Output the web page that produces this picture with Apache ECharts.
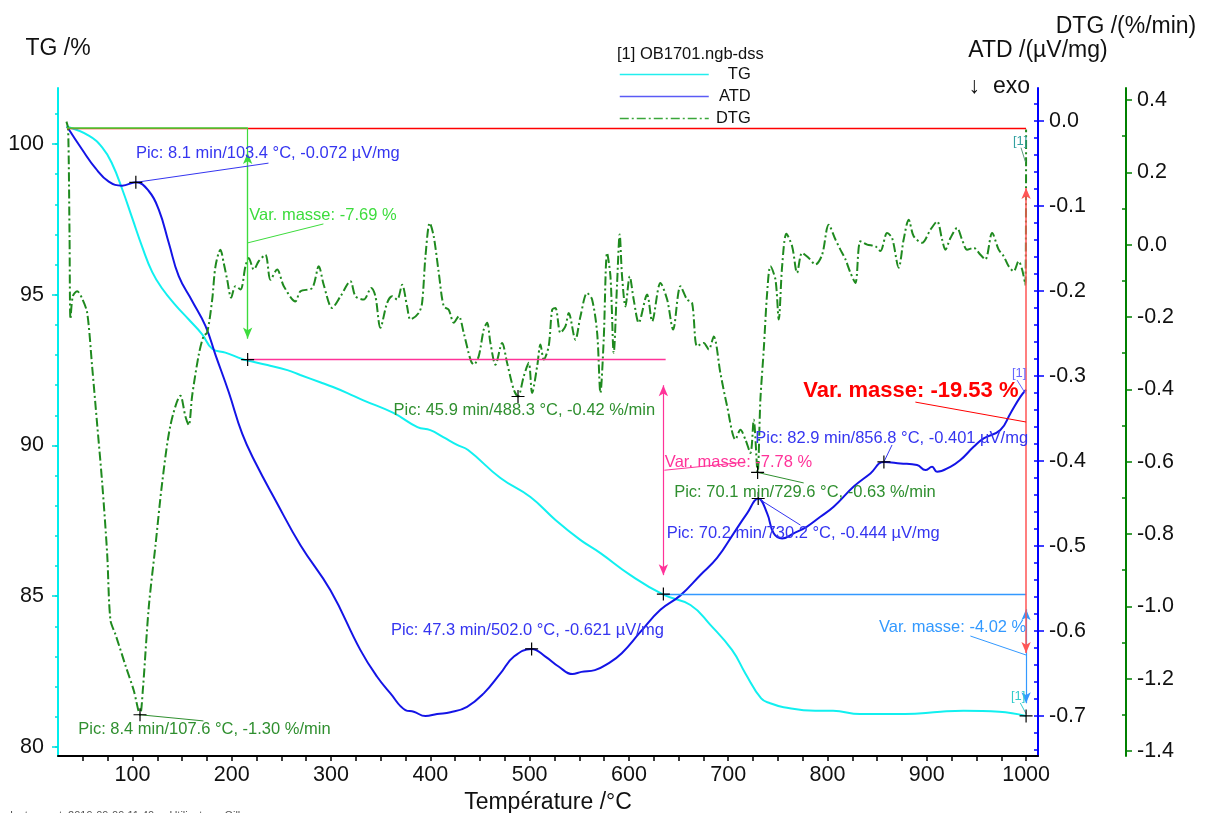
<!DOCTYPE html>
<html><head><meta charset="utf-8">
<script src="https://cdn.jsdelivr.net/npm/echarts@6/dist/echarts.min.js"></script>
<style>html,body{margin:0;padding:0;background:#fff}#c{width:1205px;height:813px}</style>
</head><body><div id="c"></div>
<script>
// ---------- DATA ----------
const tgT = [33.5,56,69.5,79.6,89.6,99.7,109.8,119.8,129.9,143.3,156.7,170.2,180.3,193.6,210.5,216,236,256,269,289,302,316.5,332.6,362.8,387,400,413,427,438,470.6,500.8,526,551,571.3,601.5,634.7,662,682,703.8,717.3,733.2,742.3,755.8,787.5,805.6,832.8,878,914,937,973,1000];
const tgV = [100.58,100.28,99.89,99.34,98.51,97.55,96.59,95.76,95.21,94.66,94.18,93.69,93.21,93.08,92.87,92.82,92.67,92.5,92.34,92.1,91.94,91.74,91.5,91.08,90.61,90.51,90.28,90.02,89.85,88.92,88.29,87.53,86.87,86.43,85.7,85.05,84.71,84.05,83.22,82.44,81.61,81.45,81.32,81.2,81.2,81.09,81.09,81.17,81.2,81.17,81.03];

const atdT = [34.2,49.3,62.7,76.1,89.6,103.4,116.4,126.5,136.6,146.6,160.1,173.5,183.6,197,210.5,223.9,244,269.2,299.4,329.6,346.4,359.8,374.9,383.3,395.1,406.8,420.2,437,453.8,470.6,484.2,502,515.9,529.5,543.1,552.2,565.7,579.4,592.8,611.6,631.7,651.9,672,688.8,705.5,719,730.2,739.2,745.8,754.3,766,779.4,792.8,806.2,826.4,843.2,856.8,873.4,890.2,898.6,905.3,910.3,923.7,933.8,947.2,957.3,974.1,984.2,994.2,1000];
const atdV = [-0.0066,-0.0334,-0.0553,-0.0711,-0.0759,-0.072,-0.0822,-0.1042,-0.1433,-0.1824,-0.2116,-0.2409,-0.275,-0.319,-0.3678,-0.402,-0.446,-0.499,-0.552,-0.6224,-0.6538,-0.6733,-0.6929,-0.6949,-0.7,-0.6976,-0.6956,-0.6891,-0.6733,-0.6498,-0.630,-0.621,-0.630,-0.642,-0.6506,-0.648,-0.646,-0.638,-0.626,-0.601,-0.575,-0.558,-0.534,-0.514,-0.485,-0.4615,-0.444,-0.4615,-0.485,-0.491,-0.485,-0.477,-0.4655,-0.4538,-0.430,-0.4145,-0.401,-0.4027,-0.4047,-0.4106,-0.4067,-0.4126,-0.4067,-0.3988,-0.3832,-0.3733,-0.3635,-0.3439,-0.3244,-0.316];

const dtgT = [33.5,35.2,36.6,37.6,39.9,44.3,49.3,54.4,59.4,64.5,69.5,74.5,77.8,82.9,93,101.3,107.6,110.4,116.4,123.2,129.9,138.3,148.3,153.4,156.7,160.1,166.8,171.8,175.2,180.3,183.6,188.6,191.9,195.4,199.4,203.7,208.8,213.8,217.1,222.2,227.2,233.9,239,245.7,252.4,264.1,269.2,281,287.6,292.6,301.1,309.5,319.5,324.6,332.9,340.4,344.7,349.7,356.5,361.5,366.6,371.6,376.6,380,388.3,391.7,395.1,399.4,403.4,408.5,413.5,418.5,423.6,428.6,433.6,440.4,443.7,448.7,453.8,457.2,460.5,465.6,472.3,477.3,484,488.3,494.1,499.1,502.5,507.6,510.9,514.2,519.2,522.7,526,531,536,539.4,546.1,551.2,557.9,562.9,568,571.3,574.6,578,581.4,584.7,588.1,590.7,593.1,596.5,600.8,604.8,609.9,618.3,623.4,631.7,638.5,644.5,651.9,658.6,663.6,668.7,675.3,680.4,685.4,692.1,698.9,707.3,712.3,717.3,722.4,725.7,729.6,732.4,735.8,739.2,742.5,747.6,750.9,754.3,758.6,764.4,769.4,774.4,781.1,787.8,794.6,801.2,808,813,818.1,823.1,828.1,833.1,839.9,848.3,853.3,860,865.1,871.7,876.7,881.8,886.8,895.3,903.6,910.4,915.4,918.7,923.8,930.5,935.5,940.6,947.2,954,959,965.8,972.4,977.4,982.5,987.5,992.5,996,999.3,1000];
const dtgV = [0.34,0.32,0.03,-0.206,-0.143,-0.129,-0.149,-0.189,-0.338,-0.499,-0.659,-0.854,-1.038,-1.078,-1.164,-1.233,-1.30,-1.233,-1.003,-0.831,-0.659,-0.499,-0.418,-0.476,-0.499,-0.418,-0.304,-0.252,-0.244,-0.152,-0.06,-0.014,-0.051,-0.097,-0.147,-0.115,-0.124,-0.06,-0.037,-0.069,-0.046,-0.028,-0.097,-0.069,-0.115,-0.157,-0.129,-0.120,-0.06,-0.111,-0.175,-0.143,-0.101,-0.143,-0.152,-0.12,-0.143,-0.23,-0.161,-0.143,-0.152,-0.111,-0.171,-0.207,-0.189,-0.161,-0.032,0.06,0.023,-0.078,-0.171,-0.18,-0.216,-0.198,-0.244,-0.318,-0.332,-0.309,-0.235,-0.216,-0.272,-0.332,-0.272,-0.327,-0.401,-0.42,-0.364,-0.327,-0.41,-0.336,-0.276,-0.318,-0.281,-0.18,-0.175,-0.244,-0.226,-0.189,-0.263,-0.198,-0.134,-0.152,-0.244,-0.41,-0.263,-0.023,-0.088,-0.299,-0.106,0.028,-0.088,-0.171,-0.088,-0.152,-0.216,-0.138,-0.212,-0.106,-0.152,-0.235,-0.115,-0.152,-0.161,-0.281,-0.272,-0.29,-0.254,-0.355,-0.447,-0.539,-0.512,-0.539,-0.576,-0.484,-0.63,-0.429,-0.29,-0.134,-0.06,-0.097,-0.207,-0.06,0.03,-0.005,-0.078,-0.023,-0.037,-0.055,-0.028,0.055,0.014,-0.014,-0.041,-0.078,-0.106,0.009,0.0,-0.005,-0.018,0.032,0.018,-0.064,0.014,0.069,0.023,0.005,0.041,0.064,0.014,-0.014,0.018,0.046,0.014,-0.014,-0.009,-0.028,-0.041,0.032,-0.014,-0.032,-0.06,-0.074,-0.046,-0.069,-0.111,0.318];

const xLabels = [100,200,300,400,500,600,700,800,900,1000];
const tgLabels = [80,85,90,95,100];
const atdLabels = [0,-0.1,-0.2,-0.3,-0.4,-0.5,-0.6,-0.7];
const dtgLabels = [0.4,0.2,0,-0.2,-0.4,-0.6,-0.8,-1.0,-1.2,-1.4];

// mass-change steps (TG levels, %) and peak annotations
const tgStart = 100.54, tgStep1 = 92.85, tgStep2 = 85.07, tgEnd = 81.03;
const tStart = 34, tStep1 = 216, tStep2 = 634.7, tEnd = 1000;
const atdPeaks = [[103.4,-0.072],[502.0,-0.621],[730.2,-0.444],[856.8,-0.401]];
const dtgPeaks = [[107.6,-1.30],[488.3,-0.42],[729.6,-0.63]];

// ---------- BUILD ----------
const zip = (a,b) => a.map((v,i)=>[v,b[i]]);
const FONT = '"Liberation Sans", Arial, sans-serif';
function range(a,b,s){const r=[];for(let v=a;v<=b+1e-9;v+=s)r.push(Math.round(v*1000)/1000);return r;}

function txt(coord, text, color, size, bold){
  return {coord, symbol:'circle', symbolSize:1, itemStyle:{color:'rgba(0,0,0,0)'},
    label:{show:true, position:'right', distance:0, formatter:text, color, fontSize:size||16.5,
      fontWeight:bold?'bold':'normal', fontFamily:FONT}};
}
function cross(coord){
  return {coord, symbol:'path://M0,6L12,6M6,0L6,12', symbolSize:13,
    itemStyle:{color:'none', borderColor:'#000', borderWidth:1.2}, label:{show:false}};
}
function seg(a,b,color,w,arrows){
  return [{coord:a, symbol:arrows?'arrow':'none', lineStyle:{color, width:w||1, type:'solid', opacity:1}},
          {coord:b, symbol:arrows?'arrow':'none', lineStyle:{color, width:w||1, type:'solid', opacity:1}}];
}
const mlBase = {silent:true, animation:false, symbolSize:[7,11], label:{show:false}, emphasis:{disabled:true}};
const mpBase = {silent:true, animation:false, emphasis:{disabled:true}};

const cGreen='#3ddc3d', cPink='#ff3399', cLBlue='#3399ff', cRed='#ff0000', cBlueT='#3535f0', cGreenT='#2f8f2f';

const tgLines = [
  seg([tStart,tgStart],[tEnd,tgStart],cRed,1.3),
  seg([tStart,tgStart],[tStep1,tgStart],cGreen,1.6),
  seg([tStep1,tgStart],[tStep1,93.55],cGreen,1.2),
  seg([tStep1,99.7],[tStep1,93.55],cGreen,1.2,true),
  seg([215.8,96.72],[292.3,97.35],cGreen,1),
  seg([tStep1,tgStep1],[637,tgStep1],cPink,1.4),
  seg([tStep2,92.0],[tStep2,85.7],cPink,1.2,true),
  seg([635.7,89.18],[717,89.45],cPink,1),
  seg([tStep2,tgStep2],[tEnd,tgStep2],cLBlue,1.4),
  seg([tEnd,84.57],[tEnd,81.45],cLBlue,1.2,true),
  seg([943.9,83.68],[1000,83.05],cLBlue,1),
  seg([tEnd,98.54],[tEnd,83.12],'#ff5555',1.5,true),
  seg([888.5,91.44],[1000,90.78],cRed,1),
  seg([994.2,81.46],[1000,81.10],'#33cccc',1)
];
const tgPts = [
  cross([tStep1,tgStep1]), cross([tStep2,tgStep2]), cross([tEnd,tgEnd]),
  txt([217.1,97.645],'Var. masse: -7.69 %',cGreen),
  txt([635.7,89.45],'Var. masse: -7.78 %',cPink),
  txt([851.3,83.98],'Var. masse: -4.02 %',cLBlue),
  txt([775,91.8],'Var. masse: -19.53 %',cRed,22,true),
  txt([984.2,81.67],'[1]','#33cccc',13)
];
const atdLines = [
  seg(atdPeaks[0],[237,-0.0494],cBlueT,1),
  seg(atdPeaks[2],[772.7,-0.4753],cBlueT,1),
  seg(atdPeaks[3],[865,-0.381],cBlueT,1),
  seg([990.9,-0.3047],[999.3,-0.3204],'#6666ff',1)
];
const atdPts = atdPeaks.map(cross).concat([
  txt([103.0,-0.0376],'Pic: 8.1 min/103.4 °C, -0.072 µV/mg',cBlueT),
  txt([359.8,-0.5988],'Pic: 47.3 min/502.0 °C, -0.621 µV/mg',cBlueT),
  txt([637.5,-0.4851],'Pic: 70.2 min/730.2 °C, -0.444 µV/mg',cBlueT),
  txt([726.7,-0.3733],'Pic: 82.9 min/856.8 °C, -0.401 µV/mg',cBlueT),
  txt([985.2,-0.2965],'[1]','#6666ff',13)
]);
const dtgLines = [
  seg(dtgPeaks[0],[171.5,-1.317],cGreenT,1),
  seg(dtgPeaks[2],[776,-0.659],cGreenT,1),
  seg([994.9,0.268],[999.3,0.229],'#5a9a7a',1)
];
const dtgPts = dtgPeaks.map(cross).concat([
  txt([44.9,-1.341],'Pic: 8.4 min/107.6 °C, -1.30 %/min',cGreenT),
  txt([362.5,-0.459],'Pic: 45.9 min/488.3 °C, -0.42 %/min',cGreenT),
  txt([645.1,-0.685],'Pic: 70.1 min/729.6 °C, -0.63 %/min',cGreenT),
  txt([986.2,0.285],'[1]','#33a0a0',13)
]);

const lblStyle = {color:'#111', fontSize:21.5, fontFamily:FONT};
const nameStyle = {color:'#111', fontSize:23, fontFamily:FONT};
const fmt1 = v => (Math.abs(v)<1e-9?0:v).toFixed(1);

function yAx(o){
  return Object.assign({type:'value', splitLine:{show:false}, axisPointer:{show:false}}, o);
}

const option = {
  animation:false,
  backgroundColor:'#fff',
  grid:{left:58, right:167, top:88, bottom:57, containLabel:false, outerBoundsMode:'none'},
  legend:{
    data:[{name:'TG', lineStyle:{color:'#22eeee', width:1.5}},
          {name:'ATD', lineStyle:{color:'#5b5bf5', width:1.5}},
          {name:'DTG', lineStyle:{color:'#3aa63a', width:1.5}}],
    orient:'vertical', left:619, top:66, itemWidth:89, itemHeight:14, itemGap:5,
    padding:0, selectedMode:false,
    itemStyle:{opacity:0, color:'rgba(0,0,0,0)', borderWidth:0},
    formatter: n => '{r|' + n + '}',
    textStyle:{fontSize:16.5, color:'#111', fontFamily:FONT, rich:{r:{width:37, align:'right', fontSize:16.5, fontFamily:FONT, color:'#111'}}}
  },
  graphic:[
    {type:'text', left:617, top:46, style:{text:'[1] OB1701.ngb-dss', font:'16.5px '+FONT, fill:'#111'}},
    {type:'text', right:175, top:75, style:{text:'↓  exo', font:'23px '+FONT, fill:'#111'}},
    {type:'text', left:10, top:810, style:{text:'Instrument: 2019-09-09 11:40     Utilisateur: Gilles', font:'11px '+FONT, fill:'#555'}}
  ],
  xAxis:{
    type:'value', min:25, max:1012, position:'bottom',
    axisLine:{show:true, onZero:false, lineStyle:{color:'#000', width:2}},
    axisTick:{show:true, length:5, customValues:range(50,1000,25), lineStyle:{color:'#000', width:1.5}},
    axisLabel:{customValues:xLabels, margin:8, formatter:v => String(v), ...lblStyle},
    splitLine:{show:false},
    name:'Température /°C', nameLocation:'middle', nameGap:33, nameTextStyle:nameStyle
  },
  yAxis:[
    yAx({position:'left', min:79.7, max:101.86,
      axisLine:{show:true, onZero:false, lineStyle:{color:'#00eeee', width:2}},
      axisTick:{show:true, length:6, customValues:tgLabels, lineStyle:{color:'#00dddd', width:1.5}},
      axisLabel:{customValues:tgLabels, margin:14, formatter:v => String(v), ...lblStyle},
      name:'TG /%', nameLocation:'end', nameGap:28, nameTextStyle:nameStyle}),
    yAx({position:'right', offset:0, min:-0.747, max:0.039,
      axisLine:{show:true, onZero:false, lineStyle:{color:'#0000ff', width:2}},
      axisTick:{show:true, length:6, customValues:atdLabels, lineStyle:{color:'#0000ff', width:1.5}},
      axisLabel:{customValues:atdLabels, margin:11, formatter:fmt1, ...lblStyle},
      name:'ATD /(µV/mg)', nameLocation:'end', nameGap:26, nameTextStyle:nameStyle}),
    yAx({position:'right', offset:88, min:-1.414, max:0.433,
      axisLine:{show:true, onZero:false, lineStyle:{color:'#008000', width:2}},
      axisTick:{show:true, length:6, customValues:dtgLabels, lineStyle:{color:'#008000', width:1.5}},
      axisLabel:{customValues:dtgLabels, margin:11, formatter:fmt1, ...lblStyle},
      name:'DTG /(%/min)', nameLocation:'end', nameGap:50, nameTextStyle:nameStyle}),
    yAx({position:'left', min:79.7, max:101.86, axisLine:{show:false},
      axisTick:{show:true, length:3, customValues:range(80,101,1), lineStyle:{color:'#00dddd', width:1.5}},
      axisLabel:{show:false}}),
    yAx({position:'right', offset:0, min:-0.747, max:0.039, axisLine:{show:false},
      axisTick:{show:true, inside:true, length:4, customValues:range(-0.74,0.02,0.02), lineStyle:{color:'#0000ff', width:1.5}},
      axisLabel:{show:false}}),
    yAx({position:'right', offset:88, min:-1.414, max:0.433, axisLine:{show:false},
      axisTick:{show:true, inside:true, length:4, customValues:[0.3,0.1,-0.1,-0.3,-0.5,-0.7,-0.9,-1.1,-1.3], lineStyle:{color:'#008000', width:1.5}},
      axisLabel:{show:false}})
  ],
  series:[
    {name:'TG', type:'line', yAxisIndex:0, data:zip(tgT,tgV), showSymbol:false, symbol:'none',
      smooth:0.45, lineStyle:{color:'#11f0f0', width:2}, itemStyle:{color:'#11f0f0'}, z:3,
      markLine:Object.assign({data:tgLines}, mlBase), markPoint:Object.assign({data:tgPts}, mpBase)},
    {name:'ATD', type:'line', yAxisIndex:1, data:zip(atdT,atdV), showSymbol:false, symbol:'none',
      smooth:0.45, lineStyle:{color:'#1414e6', width:2}, itemStyle:{color:'#1414e6'}, z:3,
      markLine:Object.assign({data:atdLines}, mlBase), markPoint:Object.assign({data:atdPts}, mpBase)},
    {name:'DTG', type:'line', yAxisIndex:2, data:zip(dtgT,dtgV), showSymbol:false, symbol:'none',
      smooth:0.3, lineStyle:{color:'#1f8a1f', width:2, type:[9,3,2,3]}, itemStyle:{color:'#1f8a1f'}, z:3,
      markLine:Object.assign({data:dtgLines}, mlBase), markPoint:Object.assign({data:dtgPts}, mpBase)}
  ]
};
const chart = echarts.init(document.getElementById('c'), null, {renderer:'canvas'});
chart.setOption(option);
</script>
</body></html>
